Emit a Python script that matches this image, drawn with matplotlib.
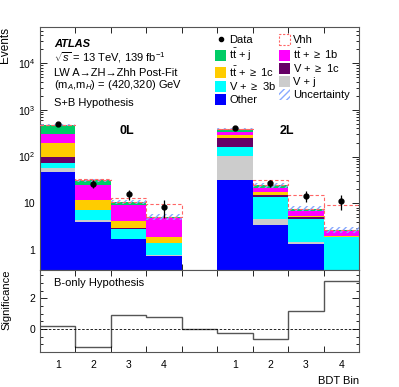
import numpy as np
import matplotlib
matplotlib.use("Agg")
import matplotlib.pyplot as plt
from matplotlib.patches import Patch
from matplotlib.lines import Line2D
from matplotlib.ticker import FixedLocator, MultipleLocator, FuncFormatter, LogLocator, NullFormatter

plt.rcParams["font.family"] = ["Liberation Sans", "DejaVu Sans"]
plt.rcParams["mathtext.fontset"] = "custom"
plt.rcParams["mathtext.rm"] = "Liberation Sans"
plt.rcParams["mathtext.it"] = "Liberation Sans:italic"
plt.rcParams["mathtext.bf"] = "Liberation Sans:bold"

# bins: 0L bins 1-4, empty gap, 2L bins 1-4
bin_pos = [0, 1, 2, 3, 5, 6, 7, 8]
tick_labels = ["1", "2", "3", "4", "1", "2", "3", "4"]

# post-fit yields per process (stack order bottom -> top)
other = [46, 4.0, 1.7, 0.75, 32, 3.4, 1.32, 0.2]
v_j = [11.5, 0.35, 0.03, 0.02, 73, 1.1, 0.14, 0.02]
v_3b = [14.5, 2.75, 1.07, 0.62, 53, 9.1, 3.04, 1.63]
v_1c = [28, 0.1, 0.2, 0.03, 92, 1.7, 0.6, 0.07]
tt_1c = [95, 4.4, 1.1, 0.5, 40, 1.7, 0.3, 0.03]
tt_1b = [108, 12.4, 5.0, 2.8, 50, 4.5, 1.4, 0.6]
tt_j = [167, 7, 1.6, 0.4, 50, 2.5, 0.9, 0.1]
unc = [25, 2.5, 0.9, 0.7, 20, 2.5, 0.9, 0.4]
vhh = [2, 1.4, 2.2, 4.7, 2, 8, 7.6, 6.6]

data = [510, 26, 15.5, 8.3, 408, 27, 14.5, 11.2]
data_err = [23, 5, 4, 3.4, 20, 5, 4, 4]

# B-only significance, 9 bins including the gap
significance = [0.2, -1.2, 0.9, 0.78, 0.0, -0.26, -0.67, 1.15, 3.1]

processes = [
    ("Other", other, "#0000ff"),
    ("V + j", v_j, "#cccccc"),
    ("V + $\\geq$ 3b", v_3b, "#00ffff"),
    ("V + $\\geq$ 1c", v_1c, "#660066"),
    ("$\\mathrm{t\\bar{t}}$ + $\\geq$ 1c", tt_1c, "#ffcc00"),
    ("$\\mathrm{t\\bar{t}}$ + $\\geq$ 1b", tt_1b, "#ff00ff"),
    ("$\\mathrm{t\\bar{t}}$ + j", tt_j, "#00cc66"),
]

W, H = 399, 387
fig = plt.figure(figsize=(W / 100, H / 100), dpi=100)
ax = fig.add_axes([40 / W, 1 - 270 / H, 319 / W, 243 / H])
axr = fig.add_axes([40 / W, 1 - 352 / H, 319 / W, 82 / H], sharex=ax)

ax.set_yscale("log")
x = np.array(bin_pos) + 0.5
bottom = np.full(len(x), 1e-3)
for name, vals, col in processes:
    ax.bar(x, vals, width=1.0, bottom=bottom, color=col, edgecolor="none", zorder=2)
    bottom = bottom + np.array(vals)
total = bottom

# uncertainty band
unc = np.array(unc)
ax.bar(x, 2 * unc, width=1.0, bottom=total - unc, fill=False, hatch="/////",
       edgecolor="#88aaff", linewidth=0, zorder=3)
# signal on top of background
ax.bar(x, vhh, width=1.0, bottom=total, fill=False, linestyle=(0, (3, 2)),
       edgecolor="#ff6666", linewidth=0.8, zorder=3)
ax.errorbar(x, data, yerr=data_err, fmt="o", color="black", ms=3.5,
            elinewidth=0.9, capsize=0, zorder=5)

ax.set_xlim(0, 9)
ax.set_ylim(0.37, 6e4)
ax.yaxis.set_major_locator(LogLocator(base=10, numticks=10))
ax.yaxis.set_minor_locator(LogLocator(base=10, subs=np.arange(2, 10), numticks=20))
ax.yaxis.set_minor_formatter(NullFormatter())
ax.yaxis.set_major_formatter(FuncFormatter(
    lambda v, p: "1" if v == 1 else ("10" if v == 10 else "$10^{%d}$" % round(np.log10(v)))))

for a in (ax, axr):
    a.xaxis.set_major_locator(FixedLocator(np.arange(0, 10)))
    a.xaxis.set_minor_locator(FixedLocator(x))
    a.tick_params(which="both", direction="in", top=True, right=True, labelsize=7.5)
    a.tick_params(which="major", length=5, width=0.6)
    a.tick_params(which="minor", length=2.5, width=0.6)
    a.tick_params(axis="x", which="major", labelbottom=False, length=4)
    a.tick_params(axis="x", which="minor", length=0)
    for s in a.spines.values():
        s.set_linewidth(0.8)
        s.set_color("#555555")
ax.tick_params(axis="x", which="minor", labelbottom=False)
axr.xaxis.set_minor_formatter(FuncFormatter(lambda v, p: tick_labels[p] if p < len(tick_labels) else ""))
axr.tick_params(axis="x", which="minor", labelbottom=True, pad=6)

ax.set_ylabel("Events", loc="top", fontsize=8.5)
axr.set_ylabel("Significance", loc="top", fontsize=8)
ax.yaxis.set_label_coords(-0.09, 1.0)
axr.yaxis.set_label_coords(-0.09, 1.0)
axr.set_xlabel("BDT Bin", loc="right", fontsize=8)

# text block
kw = dict(transform=ax.transAxes, fontsize=8, va="baseline")
ax.text(0.044, 0.916, "ATLAS", fontweight="bold", style="italic", **kw)
ax.text(0.044, 0.857, "$\\sqrt{s}$ = 13 TeV, 139 fb$^{-1}$", **kw)
ax.text(0.044, 0.80, "LW A\u2192ZH\u2192Zhh Post-Fit", **kw)
ax.text(0.044, 0.749, "(m$_{A}$,m$_{H}$) = (420,320) GeV", **kw)
ax.text(0.044, 0.675, "S+B Hypothesis", **kw)
ax.text(0.273, 0.572, "0L", transform=ax.transAxes, fontsize=9, fontweight="bold",
        ha="center", va="center")
ax.text(0.774, 0.572, "2L", transform=ax.transAxes, fontsize=9, fontweight="bold",
        ha="center", va="center")

# legend (column-wise order)
h_data = Line2D([], [], marker="o", color="black", ls="none", ms=3)
h_vhh = Patch(facecolor="none", edgecolor="#ff6666", linestyle=(0, (2, 1.5)), linewidth=0.8)
h_unc = Patch(facecolor="none", edgecolor="#88aaff", hatch="/////", linewidth=0)
hp = {name: Patch(facecolor=col, edgecolor="none") for name, vals, col in processes}
names = [p[0] for p in processes]
handles = [h_data, hp[names[6]], hp[names[4]], hp[names[2]], hp[names[0]],
           h_vhh, hp[names[5]], hp[names[3]], hp[names[1]], h_unc]
labels = ["Data", names[6], names[4], names[2], names[0],
          "Vhh", names[5], names[3], names[1], "Uncertainty"]
ax.legend(handles, labels, ncol=2, loc="upper right", bbox_to_anchor=(0.985, 0.99),
          frameon=False, fontsize=8, handlelength=1.0, handleheight=1.15,
          handletextpad=0.3, columnspacing=0.2, labelspacing=0.14, borderaxespad=0.0)

# significance panel
axr.stairs(significance, np.arange(0, 10), color="#555555", linewidth=1.0, baseline=None)
axr.axhline(0, color="black", linestyle=(0, (3, 2)), linewidth=0.6)
axr.set_ylim(-1.5, 3.85)
axr.yaxis.set_major_locator(FixedLocator([0, 2]))
axr.yaxis.set_minor_locator(MultipleLocator(0.5))
axr.text(0.044, 0.80, "B-only Hypothesis", transform=axr.transAxes, fontsize=8, va="baseline")

fig.savefig("out.png", dpi=100)
